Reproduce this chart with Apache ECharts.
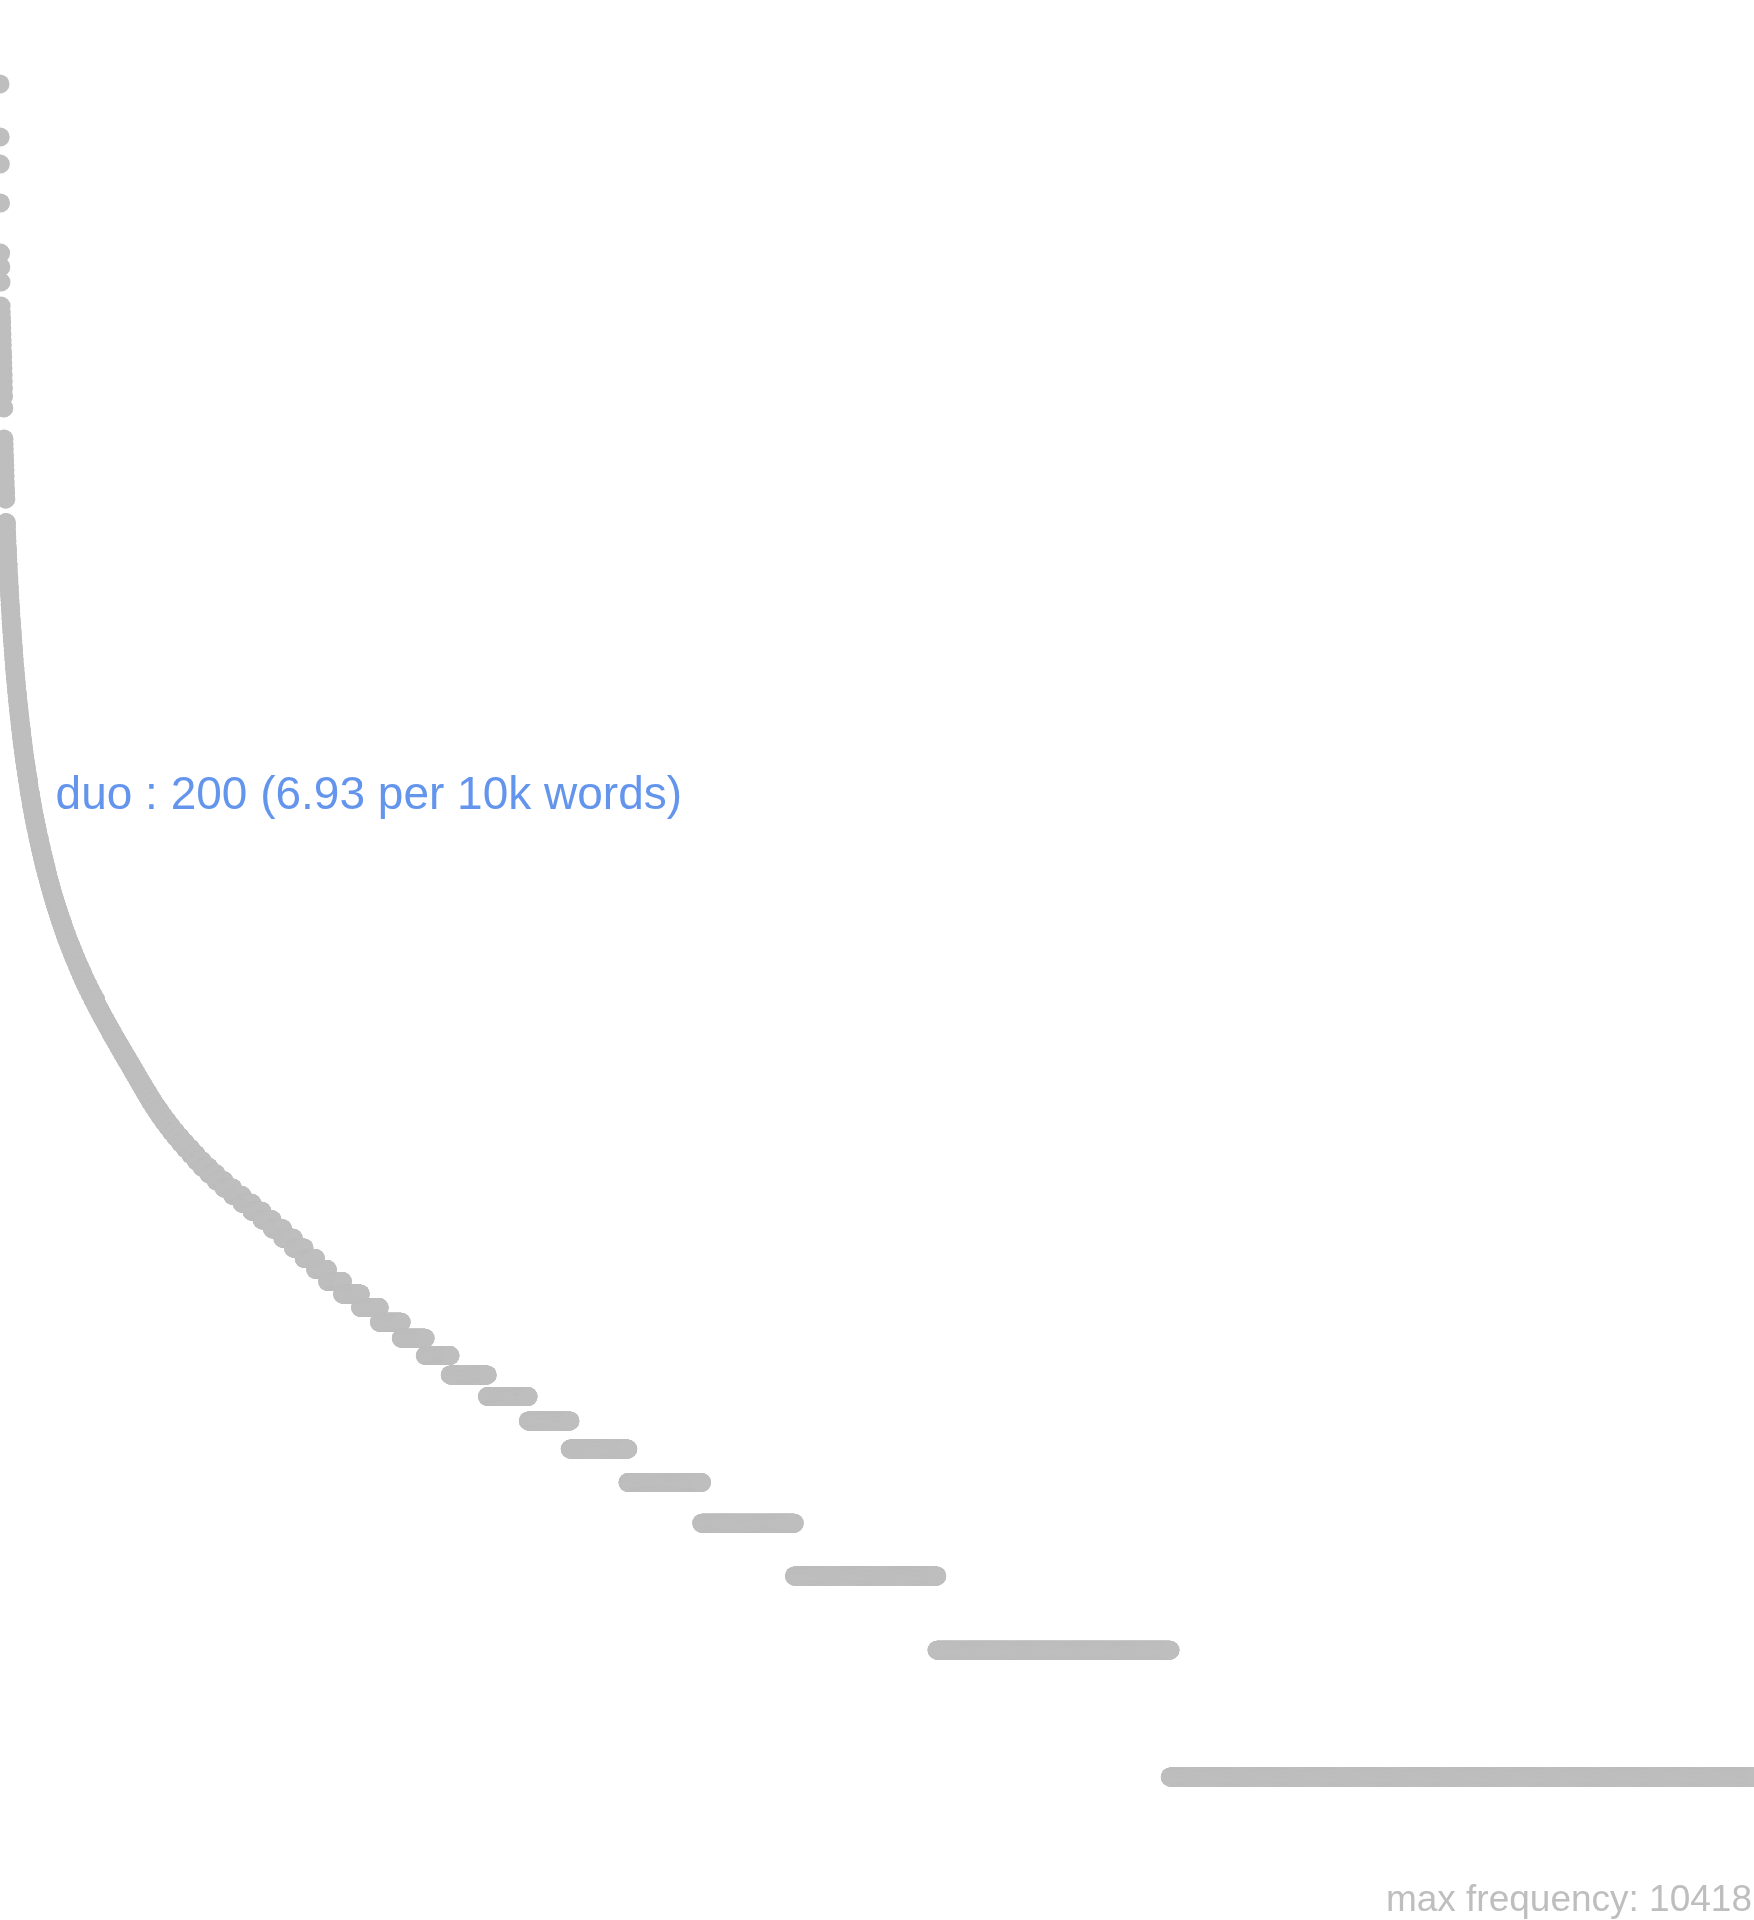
<!DOCTYPE html>
<html>
<head>
<meta charset="utf-8">
<script src="https://cdn.jsdelivr.net/npm/echarts@6/dist/echarts.min.js"></script>
<style>
  html, body { margin: 0; padding: 0; background: #ffffff; }
  #chart { width: 1754px; height: 1920px; }
</style>
</head>
<body>
<div id="chart"></div>
<script>
// ---- data ----
// the most frequent words, one entry per word (ranks 1..36)
const topWordFreqs = [10418, 7798, 6725, 5435, 4135, 3831, 3529,
  3095, 2996, 2904, 2837, 2745, 2657, 2571, 2502, 2407, 2342, 2267, 2206, 2123, 2055, 1978, 1893, 1773,
  1497, 1457, 1417, 1372, 1335, 1299, 1264, 1223, 1184, 1145, 1114, 1078];

// frequency spectrum of the remaining words: frequency value and number of words with it
const spectrumFreq = [947, 924, 901, 879, 857, 836, 815, 795, 775, 756, 738, 720, 702, 685, 668, 652, 636, 620,
  605, 590, 575, 561, 547, 534, 521, 508, 496, 484, 472, 460, 449, 438, 427, 416, 406, 396, 386, 376, 367, 358,
  349, 340, 332, 324, 316, 308, 300, 292, 285, 278, 271, 264, 257, 250, 244, 238, 232, 226, 220, 215, 210, 205,
  200, 195, 190, 185, 180, 176, 172, 168, 164, 160, 156, 152, 148, 144, 140,
  138, 136, 134, 132, 130, 128, 126, 124, 122, 120, 118, 116, 114, 112, 110, 108, 106, 104, 102, 100,
  98, 96, 94, 92, 90, 88, 86, 84, 82, 80, 78, 76, 74, 72, 70,
  68, 67, 66, 65, 64, 63, 62, 61, 60, 59, 58, 57, 56, 55, 54, 53, 52, 51, 50, 49, 48, 47, 46, 45, 44, 43, 42, 41,
  40, 39, 38, 37, 36, 35, 34, 33, 32, 31, 30, 29, 28, 27, 26, 25, 24, 23, 22, 21, 20, 19, 18,
  17, 16, 15, 14, 13, 12, 11, 10, 9, 8, 7, 6, 5, 4, 3, 2, 1];
const spectrumWords = [3, 1, 1, 1, 1, 1, 2, 1, 1, 2, 1, 1, 2, 1, 2, 1, 2, 1,
  2, 2, 1, 2, 2, 2, 2, 2, 2, 2, 2, 2, 2, 2, 3, 2, 3, 2, 3, 3, 2, 3,
  3, 3, 3, 3, 3, 4, 3, 3, 4, 3, 4, 4, 4, 5, 4, 4, 5, 4, 4, 5, 4, 5,
  5, 5, 6, 6, 6, 5, 5, 6, 6, 6, 7, 7, 7, 8, 6,
  4, 4, 5, 4, 5, 5, 5, 5, 6, 5, 6, 6, 6, 6, 7, 7, 7, 7, 8, 8,
  8, 9, 9, 10, 9, 11, 11, 11, 12, 12, 13, 14, 15, 15, 17,
  9, 9, 9, 9, 9, 10, 10, 10, 10, 10, 11, 11, 11, 12, 12, 12, 12, 13, 13, 13, 13, 14, 14, 14, 15, 15, 16, 16,
  17, 19, 20, 21, 23, 24, 26, 28, 30, 32, 33, 36, 40, 44, 48, 52, 56, 59, 61, 62, 63, 64, 65,
  69, 72, 90, 108, 114, 132, 144, 150, 224, 246, 252, 348, 444, 558, 858, 1404, 3515];

const highlightWord = 'duo';
const highlightFreq = 200;
const highlightPer10k = '6.93';
const maxFrequency = 10418;

// ---- build the rank / frequency points ----
const points = [];
let rank = 1;
topWordFreqs.forEach(f => { points.push([rank, f]); rank++; });
spectrumFreq.forEach((f, i) => {
  for (let k = 0; k < spectrumWords[i]; k++) { points.push([rank, f]); rank++; }
});
const totalWords = rank - 1;
const highlightPoint = points.find(p => p[1] === highlightFreq);

const chart = echarts.init(document.getElementById('chart'), null, { renderer: 'canvas' });
chart.setOption({
  animation: false,
  backgroundColor: '#ffffff',
  grid: { left: 0, right: 0, top: 84, bottom: 143, containLabel: false },
  xAxis: {
    type: 'value', min: 1, max: totalWords,
    show: false, splitLine: { show: false }
  },
  yAxis: {
    type: 'log', min: 1, max: maxFrequency, logBase: 10,
    show: false, splitLine: { show: false }
  },
  series: [
    {
      type: 'scatter',
      data: points,
      symbol: 'circle',
      symbolSize: 19,
      itemStyle: { color: '#BEBEBE', opacity: 1 },
      progressive: 0,
      large: false,
      silent: true,
      emphasis: { disabled: true }
    },
    {
      type: 'scatter',
      data: [highlightPoint],
      symbol: 'circle',
      symbolSize: 19,
      itemStyle: { color: '#BEBEBE', opacity: 1 },
      silent: true,
      emphasis: { disabled: true },
      label: {
        show: true,
        position: 'right',
        distance: 14,
        offset: [0, -11],
        formatter: highlightWord + ' : ' + highlightFreq + ' (' + highlightPer10k + ' per 10k words)',
        color: '#6495ED',
        fontFamily: '"Liberation Sans", Arial, Helvetica, sans-serif',
        fontSize: 46
      }
    }
  ],
  graphic: [
    {
      type: 'text',
      right: 2,
      top: 1882,
      style: {
        text: 'max frequency: ' + maxFrequency,
        fill: '#BEBEBE',
        font: '37px "Liberation Sans", Arial, Helvetica, sans-serif'
      }
    }
  ]
});
</script>
</body>
</html>
